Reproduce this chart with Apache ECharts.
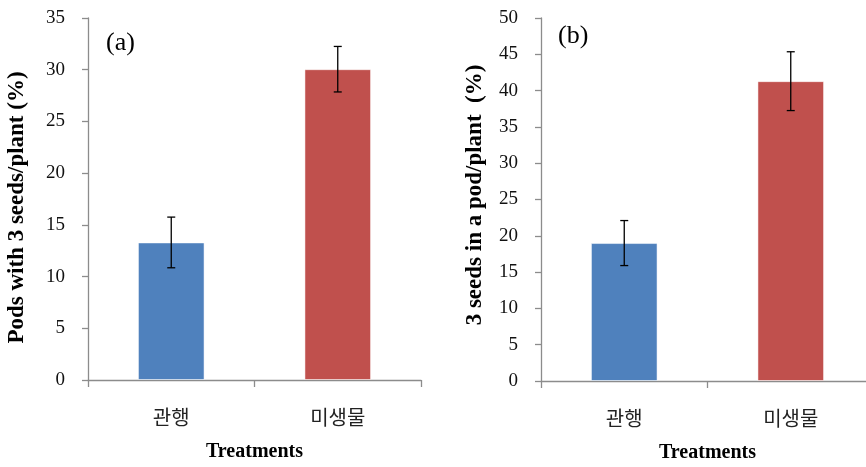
<!DOCTYPE html>
<html>
<head>
<meta charset="utf-8">
<style>
  html, body { margin: 0; padding: 0; background: #fff; }
  #chart { width: 866px; height: 467px; }
</style>
<script src="https://cdn.jsdelivr.net/npm/echarts@6/dist/echarts.min.js"></script>
</head>
<body>
<div id="chart"></div>
<script>
// Treatments compared in both panels
const categories = ['관행', '미생물'];

// (a) Pods with 3 seeds per plant (%), mean and standard error
const podsMean = [13.3, 30.05];
const podsErr = [2.45, 2.2];

// (b) 3 seeds in a pod per plant (%), mean and standard error
const seedsMean = [19.0, 41.3];
const seedsErr = [3.1, 4.05];

// Value-axis ranges for the two panels
const podsAxis = { min: 0, max: 35, interval: 5 };
const seedsAxis = { min: 0, max: 50, interval: 5 };

const barColors = ['#4F81BD', '#C0504D'];
const axisGrey = '#8c8c8c';
const serif = '"Liberation Serif", "Times New Roman", serif';

function errorSeries(axisIndex, means, errs) {
  return {
    type: 'custom',
    xAxisIndex: axisIndex,
    yAxisIndex: axisIndex,
    z: 5,
    silent: true,
    data: means.map((m, i) => [i, m, errs[i]]),
    renderItem: function (params, api) {
      const i = api.value(0), m = api.value(1), e = api.value(2);
      const top = api.coord([i, m + e]);
      const bot = api.coord([i, m - e]);
      const cap = 4;
      const style = { stroke: '#000', lineWidth: 1.3 };
      return {
        type: 'group',
        children: [
          { type: 'line', shape: { x1: top[0], y1: top[1], x2: bot[0], y2: bot[1] }, style: style },
          { type: 'line', shape: { x1: top[0] - cap, y1: top[1], x2: top[0] + cap, y2: top[1] }, style: style },
          { type: 'line', shape: { x1: bot[0] - cap, y1: bot[1], x2: bot[0] + cap, y2: bot[1] }, style: style }
        ]
      };
    }
  };
}

function barSeries(axisIndex, means) {
  return {
    type: 'bar',
    xAxisIndex: axisIndex,
    yAxisIndex: axisIndex,
    barWidth: '40%',
    data: means.map((v, i) => ({
      value: v,
      itemStyle: { color: barColors[i], borderColor: 'rgba(255,255,255,0.5)', borderWidth: 1 }
    }))
  };
}

function xAxisDef(gridIndex) {
  return {
    type: 'category',
    gridIndex: gridIndex,
    data: categories,
    boundaryGap: true,
    axisLine: { lineStyle: { color: axisGrey, width: 1.3 } },
    axisTick: { show: true, length: 7, lineStyle: { color: axisGrey, width: 1.3 } },
    axisLabel: {
      margin: 27,
      fontFamily: '"Noto Sans CJK KR", sans-serif',
      fontSize: 20,
      color: '#222'
    },
    name: 'Treatments',
    nameLocation: 'middle',
    nameGap: 62,
    nameTextStyle: { fontFamily: serif, fontWeight: 'bold', fontSize: 20, color: '#000' }
  };
}

function yAxisDef(gridIndex, range, name, nameGap, namePad) {
  return {
    type: 'value',
    gridIndex: gridIndex,
    min: range.min,
    max: range.max,
    interval: range.interval,
    splitLine: { show: false },
    axisLine: { show: true, lineStyle: { color: axisGrey, width: 1.3 } },
    axisTick: { show: true, length: 6, lineStyle: { color: axisGrey, width: 1.3 } },
    axisLabel: { margin: 23, fontFamily: serif, fontSize: 19, color: '#111' },
    name: name,
    nameLocation: 'middle',
    nameGap: nameGap,
    nameRotate: 90,
    nameTextStyle: { fontFamily: serif, fontWeight: 'bold', fontSize: 23, color: '#000', padding: namePad }
  };
}

const chart = echarts.init(document.getElementById('chart'), null, { renderer: 'canvas' });
chart.setOption({
  animation: false,
  backgroundColor: '#fff',
  grid: [
    { left: 88, top: 18, width: 333, height: 362, containLabel: false, outerBoundsMode: 'none' },
    { left: 541, top: 18, width: 333, height: 363, containLabel: false, outerBoundsMode: 'none' }
  ],
  xAxis: [xAxisDef(0), xAxisDef(1)],
  yAxis: [
    yAxisDef(0, podsAxis, 'Pods with 3 seeds/plant (%)', 59, [0, 17, 0, 0]),
    yAxisDef(1, seedsAxis, '3 seeds in a pod/plant  (%)', 54, [0, 0, 0, 9])
  ],
  graphic: [
    { type: 'text', left: 106, top: 30, style: { text: '(a)', font: '26px ' + serif, fill: '#000' } },
    { type: 'text', left: 558, top: 23, style: { text: '(b)', font: '26px ' + serif, fill: '#000' } }
  ],
  series: [
    barSeries(0, podsMean),
    errorSeries(0, podsMean, podsErr),
    barSeries(1, seedsMean),
    errorSeries(1, seedsMean, seedsErr)
  ]
});
</script>
</body>
</html>
